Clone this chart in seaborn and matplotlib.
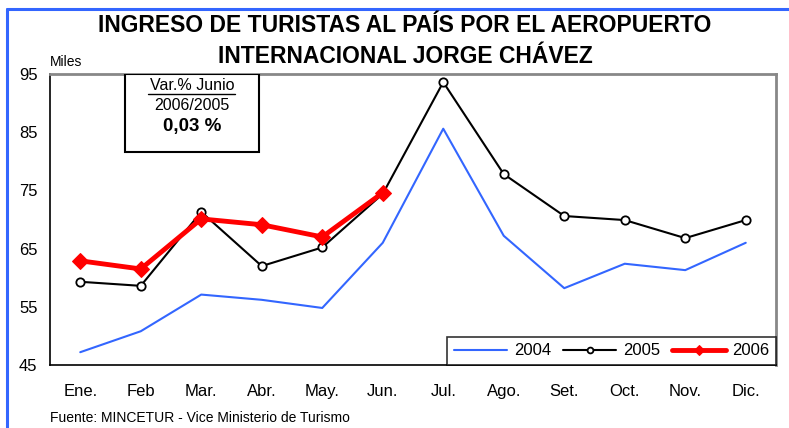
import numpy as np
import pandas as pd
import matplotlib
matplotlib.use("Agg")
import matplotlib.pyplot as plt
import seaborn as sns
from matplotlib.lines import Line2D
from matplotlib.patches import Rectangle

meses = ["Ene.", "Feb", "Mar.", "Abr.", "May.", "Jun.", "Jul.", "Ago.", "Set.", "Oct.", "Nov.", "Dic."]
v2004 = [47.2, 50.8, 57.1, 56.2, 54.8, 66.0, 85.6, 67.2, 58.2, 62.4, 61.3, 66.0]
v2005 = [59.3, 58.6, 71.3, 62.0, 65.2, 74.4, 93.6, 77.8, 70.6, 69.9, 66.8, 69.9]
v2006 = [62.9, 61.5, 70.1, 69.1, 67.0, 74.6]

sns.set_style("white")
plt.rcParams['font.family'] = ['Liberation Sans', 'DejaVu Sans']
plt.rcParams['text.color'] = 'black'
plt.rcParams['xtick.color'] = 'black'
plt.rcParams['ytick.color'] = 'black'

df04 = pd.DataFrame({"mes": meses, "miles": v2004})
df05 = pd.DataFrame({"mes": meses, "miles": v2005})
df06 = pd.DataFrame({"mes": meses[:len(v2006)], "miles": v2006})

fig = plt.figure(figsize=(7.89, 4.28), dpi=100)
ax = fig.add_axes([50/789, 1-365/428, 726/789, 291/428])

sns.lineplot(data=df04, x="mes", y="miles", ax=ax, color="#3366FF", linewidth=1.5,
             sort=False, label="2004")
sns.lineplot(data=df05, x="mes", y="miles", ax=ax, color="black", linewidth=1.5,
             marker="o", markersize=6, markerfacecolor="white", markeredgecolor="black",
             markeredgewidth=1.3, sort=False, label="2005")
sns.lineplot(data=df06, x="mes", y="miles", ax=ax, color="#FF0000", linewidth=3.5,
             marker="D", markersize=8, markeredgecolor="#FF0000", sort=False, label="2006")

ax.set_xlim(-0.5, 11.5)
ax.set_ylim(45, 95)
ax.set_yticks([45, 55, 65, 75, 85, 95])
ax.set_yticklabels(["45", "55", "65", "75", "85", "95"], fontsize=12)
ax.set_xticks(np.arange(-0.5, 12, 1))
ax.set_xticklabels([])
ax.set_xticks(np.arange(12), minor=True)
ax.set_xticklabels(meses, minor=True, fontsize=12)
ax.tick_params(axis="x", which="major", direction="out", length=6, width=1, color="black")
ax.tick_params(axis="x", which="minor", length=0, pad=14)
ax.tick_params(axis="y", direction="out", length=5, width=1, color="black", pad=4)
ax.set_xlabel("")
ax.set_ylabel("")

for s in ["left", "bottom"]:
    ax.spines[s].set_color("black")
    ax.spines[s].set_linewidth(1.2)
for s in ["top", "right"]:
    ax.spines[s].set_color("#888888")
    ax.spines[s].set_linewidth(2)

leg = ax.legend(loc="lower right", ncol=3, fontsize=12, frameon=True, fancybox=False,
                bbox_to_anchor=(0.547, 0, 0.453, 0.148), mode="expand",
                handlelength=3.2, columnspacing=1.2, borderaxespad=0, handletextpad=0.4,
                markerscale=0.7)
leg.get_frame().set_edgecolor("black")
leg.get_frame().set_linewidth(1.2)

# caja de variacion
ax.add_patch(Rectangle((125/789, 1-152/428), 134/789, 78/428, transform=fig.transFigure,
                       facecolor="white", edgecolor="black", linewidth=1.5, zorder=5))
fig.text(192/789, 1-85/428, "Var.% Junio", ha="center", va="center", fontsize=11.5, zorder=6)
fig.add_artist(Line2D([148/789, 235/789], [1-93.5/428, 1-93.5/428], color="black", linewidth=1))
fig.text(192/789, 1-106/428, "2006/2005", ha="center", va="center", fontsize=11.5)
fig.text(192/789, 1-126/428, "0,03 %", ha="center", va="center", fontsize=13.5, fontweight="bold")

fig.text(405/789, 1-26/428, "INGRESO DE TURISTAS AL PAÍS POR EL AEROPUERTO",
         ha="center", va="center", fontsize=16.5, fontweight="bold")
fig.text(405/789, 1-57/428, "INTERNACIONAL JORGE CHÁVEZ",
         ha="center", va="center", fontsize=16.5, fontweight="bold")
fig.text(50/789, 1-62/428, "Miles", ha="left", va="center", fontsize=10)
fig.text(50/789, 1-418/428, "Fuente: MINCETUR - Vice Ministerio de Turismo",
         ha="left", va="center", fontsize=10)

# marco azul
fig.add_artist(Line2D([7/789, 7/789], [0, 1-9/428], color="#3366FF", linewidth=2.2))
fig.add_artist(Line2D([7/789, 1], [1-9/428, 1-9/428], color="#3366FF", linewidth=2.2))

fig.savefig("out.png", dpi=100)
